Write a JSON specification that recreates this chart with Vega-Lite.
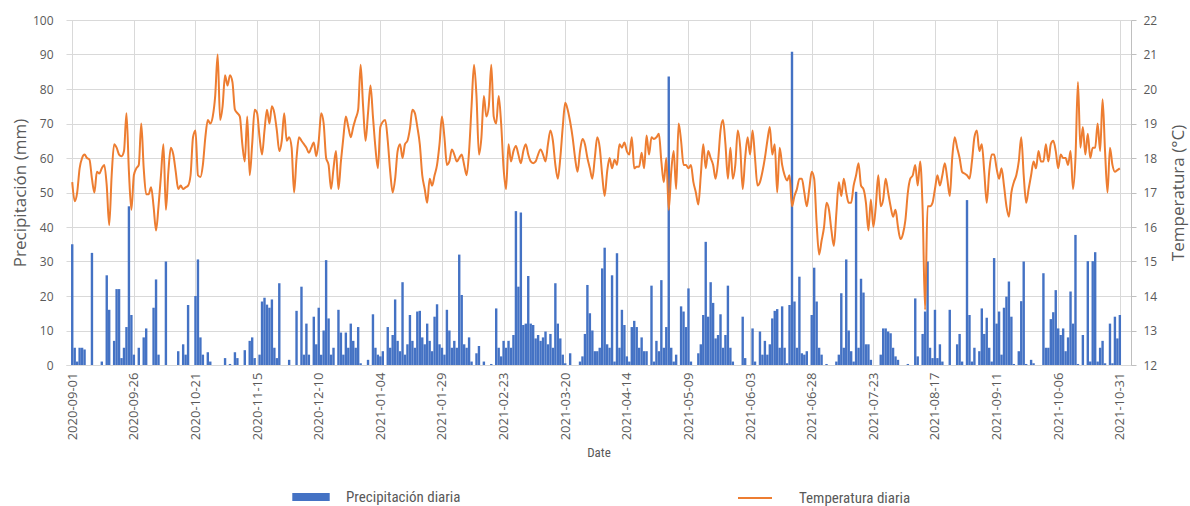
{
"$schema":"https://vega.github.io/schema/vega-lite/v6.json",
"width":1065,"height":345,
"autosize":{"type":"none"},
"padding":{"left":66,"top":20,"right":59,"bottom":141},
"background":"white",
"config":{
 "view":{"stroke":null},
 "font":"Open Sans",
 "axis":{"labelColor":"#595959","titleColor":"#595959","gridColor":"#d9d9d9","domainColor":"#d9d9d9","tickColor":"#bfbfbf","labelFont":"Open Sans","titleFont":"Open Sans","titleFontWeight":"normal","labelFontSize":12},
 "legend":{"labelColor":"#595959","labelFont":"Liberation Sans Narrow, Roboto Condensed, Liberation Sans","labelFontSize":15,"padding":0}
},
"data":{"values":[
{"Date":"2020-09-01","P":35,"T":17.3},{"Date":"2020-09-02","P":5,"T":16.75},{"Date":"2020-09-03","P":1,"T":17.0},{"Date":"2020-09-04","P":5,"T":17.7},{"Date":"2020-09-05","P":5,"T":18.0},{"Date":"2020-09-06","P":4.5,"T":18.1},{"Date":"2020-09-07","P":0,"T":18.0},{"Date":"2020-09-08","P":0,"T":17.95},{"Date":"2020-09-09","P":32.5,"T":17.4},{"Date":"2020-09-10","P":0,"T":17.0},
{"Date":"2020-09-11","P":0,"T":17.6},{"Date":"2020-09-12","P":0,"T":17.55},{"Date":"2020-09-13","P":1,"T":17.7},{"Date":"2020-09-14","P":0,"T":17.8},{"Date":"2020-09-15","P":26,"T":17.2},{"Date":"2020-09-16","P":16,"T":16.05},{"Date":"2020-09-17","P":0,"T":17.5},{"Date":"2020-09-18","P":7,"T":18.4},{"Date":"2020-09-19","P":22,"T":18.3},{"Date":"2020-09-20","P":22,"T":18.1},
{"Date":"2020-09-21","P":2,"T":18.05},{"Date":"2020-09-22","P":5,"T":18.2},{"Date":"2020-09-23","P":11,"T":19.3},{"Date":"2020-09-24","P":46,"T":17.6},{"Date":"2020-09-25","P":14.5,"T":16.5},{"Date":"2020-09-26","P":3,"T":17.5},{"Date":"2020-09-27","P":0,"T":17.7},{"Date":"2020-09-28","P":5,"T":17.8},{"Date":"2020-09-29","P":0,"T":19.0},{"Date":"2020-09-30","P":8,"T":17.7},
{"Date":"2020-10-01","P":10.6,"T":16.95},{"Date":"2020-10-02","P":0,"T":16.95},{"Date":"2020-10-03","P":0,"T":17.15},{"Date":"2020-10-04","P":16.6,"T":16.6},{"Date":"2020-10-05","P":24.8,"T":15.9},{"Date":"2020-10-06","P":3,"T":16.6},{"Date":"2020-10-07","P":0,"T":17.5},{"Date":"2020-10-08","P":0,"T":18.4},{"Date":"2020-10-09","P":30,"T":16.5},{"Date":"2020-10-10","P":0,"T":17.6},
{"Date":"2020-10-11","P":0,"T":18.3},{"Date":"2020-10-12","P":0,"T":18.1},{"Date":"2020-10-13","P":0,"T":17.6},{"Date":"2020-10-14","P":4,"T":17.1},{"Date":"2020-10-15","P":0,"T":17.2},{"Date":"2020-10-16","P":6,"T":17.1},{"Date":"2020-10-17","P":3,"T":17.15},{"Date":"2020-10-18","P":17.4,"T":17.2},{"Date":"2020-10-19","P":0,"T":17.5},{"Date":"2020-10-20","P":0,"T":18.6},
{"Date":"2020-10-21","P":20,"T":18.8},{"Date":"2020-10-22","P":30.6,"T":17.5},{"Date":"2020-10-23","P":8,"T":17.45},{"Date":"2020-10-24","P":3,"T":17.8},{"Date":"2020-10-25","P":0,"T":18.6},{"Date":"2020-10-26","P":3.7,"T":19.1},{"Date":"2020-10-27","P":1,"T":19.0},{"Date":"2020-10-28","P":0,"T":19.2},{"Date":"2020-10-29","P":0,"T":19.8},{"Date":"2020-10-30","P":0,"T":21.0},
{"Date":"2020-10-31","P":0,"T":19.1},{"Date":"2020-11-01","P":0,"T":19.5},{"Date":"2020-11-02","P":2,"T":20.4},{"Date":"2020-11-03","P":0,"T":20.1},{"Date":"2020-11-04","P":0.3,"T":20.4},{"Date":"2020-11-05","P":0,"T":20.2},{"Date":"2020-11-06","P":3.7,"T":19.4},{"Date":"2020-11-07","P":2,"T":19.3},{"Date":"2020-11-08","P":0,"T":19.2},{"Date":"2020-11-09","P":0,"T":18.4},
{"Date":"2020-11-10","P":4.3,"T":17.9},{"Date":"2020-11-11","P":0,"T":19.2},{"Date":"2020-11-12","P":7,"T":17.5},{"Date":"2020-11-13","P":8,"T":18.4},{"Date":"2020-11-14","P":2,"T":19.4},{"Date":"2020-11-15","P":0,"T":19.3},{"Date":"2020-11-16","P":3,"T":18.6},{"Date":"2020-11-17","P":18.4,"T":18.1},{"Date":"2020-11-18","P":19.5,"T":18.8},{"Date":"2020-11-19","P":17.5,"T":19.4},
{"Date":"2020-11-20","P":16.6,"T":19.0},{"Date":"2020-11-21","P":19,"T":19.5},{"Date":"2020-11-22","P":5,"T":19.3},{"Date":"2020-11-23","P":2,"T":18.8},{"Date":"2020-11-24","P":23.7,"T":18.2},{"Date":"2020-11-25","P":0,"T":18.5},{"Date":"2020-11-26","P":0,"T":19.3},{"Date":"2020-11-27","P":0,"T":18.5},{"Date":"2020-11-28","P":1.5,"T":18.6},{"Date":"2020-11-29","P":0,"T":18.3},
{"Date":"2020-11-30","P":0,"T":17.0},{"Date":"2020-12-01","P":15.7,"T":18.0},{"Date":"2020-12-02","P":0,"T":18.6},{"Date":"2020-12-03","P":22.7,"T":18.5},{"Date":"2020-12-04","P":3,"T":18.4},{"Date":"2020-12-05","P":12,"T":18.3},{"Date":"2020-12-06","P":3,"T":18.15},{"Date":"2020-12-07","P":0,"T":18.3},{"Date":"2020-12-08","P":14,"T":18.45},{"Date":"2020-12-09","P":6,"T":18.05},
{"Date":"2020-12-10","P":16.6,"T":18.5},{"Date":"2020-12-11","P":3,"T":19.3},{"Date":"2020-12-12","P":10,"T":19.0},{"Date":"2020-12-13","P":30.4,"T":18.0},{"Date":"2020-12-14","P":13.5,"T":17.8},{"Date":"2020-12-15","P":3,"T":17.1},{"Date":"2020-12-16","P":5,"T":17.7},{"Date":"2020-12-17","P":0,"T":18.2},{"Date":"2020-12-18","P":16,"T":17.1},{"Date":"2020-12-19","P":9.4,"T":17.9},
{"Date":"2020-12-20","P":3,"T":18.6},{"Date":"2020-12-21","P":9.4,"T":19.2},{"Date":"2020-12-22","P":5,"T":18.9},{"Date":"2020-12-23","P":12,"T":18.6},{"Date":"2020-12-24","P":7,"T":18.9},{"Date":"2020-12-25","P":5,"T":19.15},{"Date":"2020-12-26","P":11,"T":19.4},{"Date":"2020-12-27","P":0.5,"T":20.7},{"Date":"2020-12-28","P":0,"T":19.5},{"Date":"2020-12-29","P":0,"T":18.5},
{"Date":"2020-12-30","P":1.5,"T":19.3},{"Date":"2020-12-31","P":0,"T":20.1},{"Date":"2021-01-01","P":14.7,"T":19.2},{"Date":"2021-01-02","P":5,"T":18.3},{"Date":"2021-01-03","P":3,"T":17.7},{"Date":"2021-01-04","P":2.5,"T":18.9},{"Date":"2021-01-05","P":4,"T":19.05},{"Date":"2021-01-06","P":0,"T":19.1},{"Date":"2021-01-07","P":11,"T":18.5},{"Date":"2021-01-08","P":5,"T":17.6},
{"Date":"2021-01-09","P":8.7,"T":17.0},{"Date":"2021-01-10","P":19,"T":17.4},{"Date":"2021-01-11","P":7,"T":18.2},{"Date":"2021-01-12","P":4,"T":18.4},{"Date":"2021-01-13","P":24,"T":18.0},{"Date":"2021-01-14","P":3,"T":18.4},{"Date":"2021-01-15","P":6,"T":18.5},{"Date":"2021-01-16","P":14.5,"T":18.85},{"Date":"2021-01-17","P":7,"T":19.4},{"Date":"2021-01-18","P":5,"T":19.3},
{"Date":"2021-01-19","P":15.5,"T":18.9},{"Date":"2021-01-20","P":15.7,"T":18.4},{"Date":"2021-01-21","P":8,"T":17.5},{"Date":"2021-01-22","P":6,"T":17.1},{"Date":"2021-01-23","P":12,"T":16.7},{"Date":"2021-01-24","P":7,"T":17.4},{"Date":"2021-01-25","P":4,"T":17.2},{"Date":"2021-01-26","P":14,"T":17.5},{"Date":"2021-01-27","P":17.6,"T":17.8},{"Date":"2021-01-28","P":6,"T":18.4},
{"Date":"2021-01-29","P":5,"T":19.2},{"Date":"2021-01-30","P":3,"T":18.6},{"Date":"2021-01-31","P":16,"T":17.8},{"Date":"2021-02-01","P":10,"T":17.9},{"Date":"2021-02-02","P":5,"T":18.25},{"Date":"2021-02-03","P":7,"T":18.1},{"Date":"2021-02-04","P":5,"T":17.9},{"Date":"2021-02-05","P":32,"T":18.0},{"Date":"2021-02-06","P":20.3,"T":18.1},{"Date":"2021-02-07","P":6,"T":17.8},
{"Date":"2021-02-08","P":5,"T":17.5},{"Date":"2021-02-09","P":8,"T":18.2},{"Date":"2021-02-10","P":1,"T":19.5},{"Date":"2021-02-11","P":0,"T":20.7},{"Date":"2021-02-12","P":3.4,"T":19.8},{"Date":"2021-02-13","P":5.5,"T":18.1},{"Date":"2021-02-14","P":0,"T":18.6},{"Date":"2021-02-15","P":1,"T":19.8},{"Date":"2021-02-16","P":0,"T":19.2},{"Date":"2021-02-17","P":0,"T":19.5},
{"Date":"2021-02-18","P":0.3,"T":20.7},{"Date":"2021-02-19","P":0,"T":19.2},{"Date":"2021-02-20","P":16.4,"T":19.0},{"Date":"2021-02-21","P":5,"T":19.8},{"Date":"2021-02-22","P":2.5,"T":19.0},{"Date":"2021-02-23","P":7,"T":17.7},{"Date":"2021-02-24","P":5,"T":17.1},{"Date":"2021-02-25","P":7,"T":18.4},{"Date":"2021-02-26","P":5,"T":17.9},{"Date":"2021-02-27","P":8.7,"T":18.2},
{"Date":"2021-02-28","P":44.6,"T":18.35},{"Date":"2021-03-01","P":22.7,"T":18.1},{"Date":"2021-03-02","P":44.2,"T":17.85},{"Date":"2021-03-03","P":11.6,"T":18.2},{"Date":"2021-03-04","P":12,"T":18.4},{"Date":"2021-03-05","P":25.8,"T":18.1},{"Date":"2021-03-06","P":12,"T":17.9},{"Date":"2021-03-07","P":11.6,"T":17.85},{"Date":"2021-03-08","P":7.7,"T":17.9},{"Date":"2021-03-09","P":8.7,"T":18.1},
{"Date":"2021-03-10","P":7,"T":18.25},{"Date":"2021-03-11","P":8,"T":18.1},{"Date":"2021-03-12","P":9.7,"T":17.9},{"Date":"2021-03-13","P":6,"T":18.4},{"Date":"2021-03-14","P":9,"T":18.8},{"Date":"2021-03-15","P":5,"T":18.5},{"Date":"2021-03-16","P":23.7,"T":17.8},{"Date":"2021-03-17","P":12,"T":17.4},{"Date":"2021-03-18","P":7.7,"T":18.0},{"Date":"2021-03-19","P":3,"T":18.9},
{"Date":"2021-03-20","P":0.5,"T":19.6},{"Date":"2021-03-21","P":0,"T":19.4},{"Date":"2021-03-22","P":3.4,"T":19.05},{"Date":"2021-03-23","P":0,"T":18.6},{"Date":"2021-03-24","P":0,"T":18.0},{"Date":"2021-03-25","P":0,"T":17.6},{"Date":"2021-03-26","P":1,"T":18.2},{"Date":"2021-03-27","P":2.5,"T":18.55},{"Date":"2021-03-28","P":9,"T":18.4},{"Date":"2021-03-29","P":23.2,"T":18.0},
{"Date":"2021-03-30","P":15,"T":17.7},{"Date":"2021-03-31","P":10,"T":17.4},{"Date":"2021-04-01","P":4,"T":18.0},{"Date":"2021-04-02","P":4,"T":18.6},{"Date":"2021-04-03","P":5,"T":18.3},{"Date":"2021-04-04","P":28,"T":17.5},{"Date":"2021-04-05","P":34,"T":16.9},{"Date":"2021-04-06","P":6,"T":17.6},{"Date":"2021-04-07","P":5,"T":18.0},{"Date":"2021-04-08","P":26,"T":17.7},
{"Date":"2021-04-09","P":1,"T":17.95},{"Date":"2021-04-10","P":32.4,"T":17.8},{"Date":"2021-04-11","P":5,"T":18.4},{"Date":"2021-04-12","P":16,"T":18.3},{"Date":"2021-04-13","P":11.6,"T":18.45},{"Date":"2021-04-14","P":2.5,"T":18.2},{"Date":"2021-04-15","P":1,"T":18.1},{"Date":"2021-04-16","P":11,"T":18.6},{"Date":"2021-04-17","P":12.8,"T":17.7},{"Date":"2021-04-18","P":11,"T":17.75},
{"Date":"2021-04-19","P":5,"T":17.75},{"Date":"2021-04-20","P":8,"T":18.15},{"Date":"2021-04-21","P":4,"T":17.7},{"Date":"2021-04-22","P":4,"T":18.65},{"Date":"2021-04-23","P":0,"T":18.1},{"Date":"2021-04-24","P":23,"T":18.6},{"Date":"2021-04-25","P":1,"T":18.55},{"Date":"2021-04-26","P":7,"T":18.6},{"Date":"2021-04-27","P":4,"T":18.7},{"Date":"2021-04-28","P":24.6,"T":17.9},
{"Date":"2021-04-29","P":5,"T":17.3},{"Date":"2021-04-30","P":11,"T":18.0},{"Date":"2021-05-01","P":83.6,"T":16.5},{"Date":"2021-05-02","P":5,"T":17.6},{"Date":"2021-05-03","P":1,"T":18.2},{"Date":"2021-05-04","P":3,"T":17.1},{"Date":"2021-05-05","P":0,"T":19.0},{"Date":"2021-05-06","P":17,"T":18.5},{"Date":"2021-05-07","P":15.5,"T":17.8},{"Date":"2021-05-08","P":11,"T":17.8},
{"Date":"2021-05-09","P":22.2,"T":17.7},{"Date":"2021-05-10","P":1,"T":17.8},{"Date":"2021-05-11","P":0,"T":17.3},{"Date":"2021-05-12","P":0,"T":17.0},{"Date":"2021-05-13","P":3.4,"T":16.65},{"Date":"2021-05-14","P":6,"T":17.5},{"Date":"2021-05-15","P":14.5,"T":18.4},{"Date":"2021-05-16","P":35.7,"T":17.7},{"Date":"2021-05-17","P":14,"T":18.2},{"Date":"2021-05-18","P":24,"T":18.0},
{"Date":"2021-05-19","P":18,"T":17.8},{"Date":"2021-05-20","P":7.7,"T":17.4},{"Date":"2021-05-21","P":8.7,"T":17.9},{"Date":"2021-05-22","P":14.7,"T":18.8},{"Date":"2021-05-23","P":5,"T":19.1},{"Date":"2021-05-24","P":8.7,"T":18.4},{"Date":"2021-05-25","P":23,"T":17.4},{"Date":"2021-05-26","P":5,"T":18.3},{"Date":"2021-05-27","P":1,"T":17.4},{"Date":"2021-05-28","P":0,"T":17.8},
{"Date":"2021-05-29","P":0,"T":18.8},{"Date":"2021-05-30","P":0,"T":18.3},{"Date":"2021-05-31","P":14,"T":17.1},{"Date":"2021-06-01","P":2,"T":18.0},{"Date":"2021-06-02","P":0,"T":18.6},{"Date":"2021-06-03","P":0,"T":18.1},{"Date":"2021-06-04","P":10.6,"T":18.8},{"Date":"2021-06-05","P":1,"T":18.0},{"Date":"2021-06-06","P":0,"T":17.2},{"Date":"2021-06-07","P":9.7,"T":17.3},
{"Date":"2021-06-08","P":3,"T":17.6},{"Date":"2021-06-09","P":7,"T":18.0},{"Date":"2021-06-10","P":3,"T":18.5},{"Date":"2021-06-11","P":6,"T":18.9},{"Date":"2021-06-12","P":13.5,"T":18.1},{"Date":"2021-06-13","P":15.7,"T":18.4},{"Date":"2021-06-14","P":16.2,"T":17.0},{"Date":"2021-06-15","P":5,"T":18.3},{"Date":"2021-06-16","P":17,"T":17.8},{"Date":"2021-06-17","P":5,"T":17.5},
{"Date":"2021-06-18","P":0.5,"T":17.35},{"Date":"2021-06-19","P":17.4,"T":17.5},{"Date":"2021-06-20","P":90.8,"T":16.6},{"Date":"2021-06-21","P":18.4,"T":16.9},{"Date":"2021-06-22","P":5,"T":17.1},{"Date":"2021-06-23","P":25.6,"T":17.4},{"Date":"2021-06-24","P":3.4,"T":17.4},{"Date":"2021-06-25","P":3,"T":17.0},{"Date":"2021-06-26","P":4,"T":16.6},{"Date":"2021-06-27","P":0,"T":17.1},
{"Date":"2021-06-28","P":14.5,"T":17.6},{"Date":"2021-06-29","P":28.2,"T":17.4},{"Date":"2021-06-30","P":18.4,"T":16.1},{"Date":"2021-07-01","P":5,"T":15.2},{"Date":"2021-07-02","P":3,"T":15.6},{"Date":"2021-07-03","P":0,"T":16.0},{"Date":"2021-07-04","P":0.3,"T":16.7},{"Date":"2021-07-05","P":0,"T":16.5},{"Date":"2021-07-06","P":0,"T":15.9},{"Date":"2021-07-07","P":0,"T":15.45},
{"Date":"2021-07-08","P":1,"T":16.4},{"Date":"2021-07-09","P":3,"T":17.3},{"Date":"2021-07-10","P":20.8,"T":16.9},{"Date":"2021-07-11","P":5,"T":17.4},{"Date":"2021-07-12","P":30.6,"T":17.0},{"Date":"2021-07-13","P":10,"T":16.7},{"Date":"2021-07-14","P":4,"T":16.7},{"Date":"2021-07-15","P":1,"T":17.2},{"Date":"2021-07-16","P":50.2,"T":17.5},{"Date":"2021-07-17","P":5,"T":17.85},
{"Date":"2021-07-18","P":25,"T":17.2},{"Date":"2021-07-19","P":21,"T":17.1},{"Date":"2021-07-20","P":6,"T":16.7},{"Date":"2021-07-21","P":6,"T":15.9},{"Date":"2021-07-22","P":1.5,"T":16.8},{"Date":"2021-07-23","P":0,"T":16.0},{"Date":"2021-07-24","P":0,"T":16.6},{"Date":"2021-07-25","P":0,"T":17.5},{"Date":"2021-07-26","P":3,"T":16.6},{"Date":"2021-07-27","P":10.6,"T":16.8},
{"Date":"2021-07-28","P":10.6,"T":17.4},{"Date":"2021-07-29","P":9.7,"T":17.0},{"Date":"2021-07-30","P":9.2,"T":16.6},{"Date":"2021-07-31","P":5,"T":16.3},{"Date":"2021-08-01","P":2.5,"T":16.5},{"Date":"2021-08-02","P":1.5,"T":16.0},{"Date":"2021-08-03","P":0,"T":15.65},{"Date":"2021-08-04","P":0,"T":15.8},{"Date":"2021-08-05","P":0,"T":16.2},{"Date":"2021-08-06","P":0.3,"T":17.0},
{"Date":"2021-08-07","P":0,"T":17.4},{"Date":"2021-08-08","P":0,"T":17.5},{"Date":"2021-08-09","P":19.3,"T":17.8},{"Date":"2021-08-10","P":2.5,"T":17.2},{"Date":"2021-08-11","P":0,"T":17.9},{"Date":"2021-08-12","P":9,"T":16.5},{"Date":"2021-08-13","P":15.5,"T":13.6},{"Date":"2021-08-14","P":30,"T":16.6},{"Date":"2021-08-15","P":5,"T":16.6},{"Date":"2021-08-16","P":2,"T":16.7},
{"Date":"2021-08-17","P":16,"T":17.1},{"Date":"2021-08-18","P":2,"T":17.5},{"Date":"2021-08-19","P":6,"T":17.2},{"Date":"2021-08-20","P":1,"T":17.5},{"Date":"2021-08-21","P":0,"T":17.85},{"Date":"2021-08-22","P":0,"T":17.4},{"Date":"2021-08-23","P":16,"T":16.9},{"Date":"2021-08-24","P":0,"T":18.0},{"Date":"2021-08-25","P":0,"T":18.6},{"Date":"2021-08-26","P":6,"T":18.3},
{"Date":"2021-08-27","P":9,"T":18.0},{"Date":"2021-08-28","P":1,"T":17.6},{"Date":"2021-08-29","P":0,"T":17.55},{"Date":"2021-08-30","P":47.8,"T":17.5},{"Date":"2021-08-31","P":14.5,"T":17.4},{"Date":"2021-09-01","P":1,"T":17.9},{"Date":"2021-09-02","P":5,"T":18.6},{"Date":"2021-09-03","P":0,"T":18.8},{"Date":"2021-09-04","P":4,"T":18.2},{"Date":"2021-09-05","P":16.4,"T":18.4},
{"Date":"2021-09-06","P":9,"T":17.6},{"Date":"2021-09-07","P":13.7,"T":16.7},{"Date":"2021-09-08","P":5,"T":17.6},{"Date":"2021-09-09","P":1,"T":18.1},{"Date":"2021-09-10","P":31,"T":18.1},{"Date":"2021-09-11","P":12,"T":17.7},{"Date":"2021-09-12","P":15.5,"T":17.4},{"Date":"2021-09-13","P":3,"T":17.7},{"Date":"2021-09-14","P":16.6,"T":17.2},{"Date":"2021-09-15","P":19.8,"T":16.6},
{"Date":"2021-09-16","P":24.2,"T":16.3},{"Date":"2021-09-17","P":14,"T":17.0},{"Date":"2021-09-18","P":0.3,"T":17.3},{"Date":"2021-09-19","P":0,"T":17.5},{"Date":"2021-09-20","P":4,"T":17.9},{"Date":"2021-09-21","P":18.5,"T":18.6},{"Date":"2021-09-22","P":30,"T":17.5},{"Date":"2021-09-23","P":0.3,"T":16.7},{"Date":"2021-09-24","P":0,"T":17.1},{"Date":"2021-09-25","P":1.5,"T":17.5},
{"Date":"2021-09-26","P":0.5,"T":17.9},{"Date":"2021-09-27","P":0,"T":17.7},{"Date":"2021-09-28","P":0,"T":18.2},{"Date":"2021-09-29","P":0,"T":17.9},{"Date":"2021-09-30","P":26.6,"T":17.9},{"Date":"2021-10-01","P":5,"T":18.4},{"Date":"2021-10-02","P":5,"T":17.9},{"Date":"2021-10-03","P":13.3,"T":18.4},{"Date":"2021-10-04","P":15.3,"T":18.5},{"Date":"2021-10-05","P":21.7,"T":18.2},
{"Date":"2021-10-06","P":10.6,"T":17.7},{"Date":"2021-10-07","P":8.7,"T":18.1},{"Date":"2021-10-08","P":10.6,"T":18.0},{"Date":"2021-10-09","P":4,"T":18.0},{"Date":"2021-10-10","P":8,"T":17.8},{"Date":"2021-10-11","P":21.3,"T":18.2},{"Date":"2021-10-12","P":12,"T":17.1},{"Date":"2021-10-13","P":37.7,"T":18.0},{"Date":"2021-10-14","P":0.3,"T":20.2},{"Date":"2021-10-15","P":0,"T":18.3},
{"Date":"2021-10-16","P":8.7,"T":18.9},{"Date":"2021-10-17","P":0,"T":18.1},{"Date":"2021-10-18","P":30.1,"T":18.7},{"Date":"2021-10-19","P":1,"T":18.0},{"Date":"2021-10-20","P":30.1,"T":18.3},{"Date":"2021-10-21","P":32.7,"T":18.3},{"Date":"2021-10-22","P":1,"T":19.0},{"Date":"2021-10-23","P":5,"T":18.2},{"Date":"2021-10-24","P":7,"T":19.7},{"Date":"2021-10-25","P":0.5,"T":18.2},
{"Date":"2021-10-26","P":0,"T":17.0},{"Date":"2021-10-27","P":12,"T":18.3},{"Date":"2021-10-28","P":0.5,"T":17.8},{"Date":"2021-10-29","P":14,"T":17.6},{"Date":"2021-10-30","P":7.7,"T":17.65},{"Date":"2021-10-31","P":14.5,"T":17.7}
]},
"encoding":{
 "x":{"field":"Date","type":"temporal",
  "scale":{"type":"utc","domain":[{"year":2020,"month":8,"date":31,"hours":12,"utc":true},{"year":2021,"month":11,"date":2,"hours":12,"utc":true}]},
  "axis":{"values":[
   {"year":2020,"month":9,"date":1,"utc":true},{"year":2020,"month":9,"date":26,"utc":true},{"year":2020,"month":10,"date":21,"utc":true},{"year":2020,"month":11,"date":15,"utc":true},{"year":2020,"month":12,"date":10,"utc":true},{"year":2021,"month":1,"date":4,"utc":true},{"year":2021,"month":1,"date":29,"utc":true},{"year":2021,"month":2,"date":23,"utc":true},{"year":2021,"month":3,"date":20,"utc":true},{"year":2021,"month":4,"date":14,"utc":true},{"year":2021,"month":5,"date":9,"utc":true},{"year":2021,"month":6,"date":3,"utc":true},{"year":2021,"month":6,"date":28,"utc":true},{"year":2021,"month":7,"date":23,"utc":true},{"year":2021,"month":8,"date":17,"utc":true},{"year":2021,"month":9,"date":11,"utc":true},{"year":2021,"month":10,"date":6,"utc":true},{"year":2021,"month":10,"date":31,"utc":true}],
   "labelExpr":"utcFormat(datum.value, '%Y-%m-%d')","labelAngle":-90,"labelFontSize":13,"labelOverlap":false,"labelFlush":false,"ticks":false,"labelPadding":7,"grid":true,"domain":true,
   "title":"Date","titleFontSize":13,"titlePadding":7,"titleFont":"Liberation Sans Narrow, Roboto Condensed, Liberation Sans"}}
},
"layer":[
 {"mark":{"type":"bar","size":2.4},
  "encoding":{
   "y":{"field":"P","type":"quantitative","scale":{"domain":[0,100]},
    "axis":{"values":[0,10,20,30,40,50,60,70,80,90,100],"title":"Precipitación (mm)","titleFontSize":17,"titleX":-46,"titleY":172.5,"titleAngle":270,"titleBaseline":"middle","ticks":false,"domain":false,"labelPadding":13,"grid":true}},
   "fill":{"datum":"Precipitación diaria","type":"nominal","scale":{"range":["#4472c4"]},
    "legend":{"title":null,"orient":"none","legendX":226,"legendY":458,"symbolType":"M-1,-0.22H1V0.22H-1Z","symbolSize":1400,"symbolStrokeWidth":0,"labelOffset":16}}}},
 {"mark":{"type":"line","interpolate":"monotone","strokeWidth":2},
  "encoding":{
   "y":{"field":"T","type":"quantitative","scale":{"domain":[12,22]},
    "axis":{"orient":"right","values":[12,13,14,15,16,17,18,19,20,21,22],"title":"Temperatura (°C)","titleFontSize":17,"titleX":47,"titleY":172.5,"titleAngle":270,"titleBaseline":"middle","ticks":true,"tickSize":5,"domain":true,"domainColor":"#bfbfbf","labelPadding":7,"grid":false}},
   "stroke":{"datum":"Temperatura diaria","type":"nominal","scale":{"range":["#ed7d31"]},
    "legend":{"title":null,"orient":"none","legendX":671,"legendY":460,"symbolType":"stroke","symbolSize":1156,"symbolStrokeWidth":2,"labelOffset":26}}}}
],
"resolve":{"scale":{"y":"independent"}}
}
